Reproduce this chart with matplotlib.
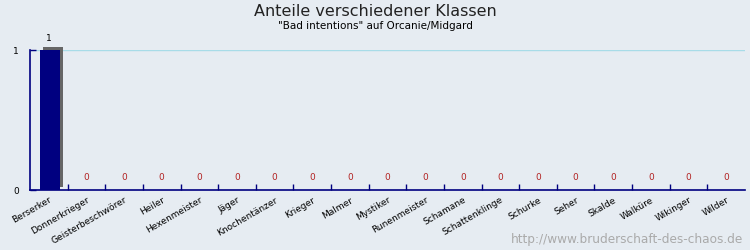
import matplotlib
matplotlib.use("Agg")
import matplotlib.pyplot as plt
import matplotlib.patheffects as pe
import numpy as np

categories = ["Berserker", "Donnerkrieger", "Geisterbeschwörer", "Heiler", "Hexenmeister",
              "Jäger", "Knochentänzer", "Krieger", "Malmer", "Mystiker", "Runenmeister",
              "Schamane", "Schattenklinge", "Schurke", "Seher", "Skalde", "Walküre",
              "Wikinger", "Wilder"]
values = [1, 0, 0, 0, 0, 0, 0, 0, 0, 0, 0, 0, 0, 0, 0, 0, 0, 0, 0]
yticks = [0, 1]

bg = "#e6ecf2"
navy = "#000080"

fig = plt.figure(figsize=(7.5, 2.5), dpi=100, facecolor=bg)
ax = fig.add_axes([30/750, 60/250, 715/750, 140/250])
ax.set_facecolor(bg)

x = np.arange(len(categories))
ax.axhline(1, color="#a8dce8", lw=1, zorder=0)
bars = ax.bar(x + 0.03, values, width=0.53, color=navy, zorder=3, clip_on=False,
              path_effects=[pe.SimplePatchShadow(offset=(2.2, 2.2), shadow_rgbFace="#666666", alpha=1.0), pe.Normal()])

for xi, v in zip(x, values):
    if v > 0:
        ax.annotate(str(v), (xi, v), xytext=(0, 5), textcoords="offset points",
                    ha="center", va="bottom", fontsize=6.5, color="black")
    else:
        ax.annotate(str(v), (xi, v), xytext=(0, 6), textcoords="offset points",
                    ha="center", va="bottom", fontsize=6.5, color="#b22222")

ax.set_xlim(-0.5, len(categories) - 0.5)
ax.set_ylim(0, 1)
for s in ["top", "right"]:
    ax.spines[s].set_visible(False)
for s in ["left", "bottom"]:
    ax.spines[s].set_color(navy)
    ax.spines[s].set_linewidth(1.2)

ax.set_xticks(x)
ax.set_xticklabels(categories, rotation=30, ha="right", rotation_mode="anchor", fontsize=6.5)
ax.tick_params(axis="x", which="major", length=0, pad=4)
for lbl in ax.get_xticklabels():
    lbl.set_x(lbl.get_position()[0])
ax.set_xticks(np.arange(0.5, len(categories) - 0.5, 1), minor=True)
ax.tick_params(axis="x", which="minor", direction="in", length=4, color=navy, width=1)
ax.set_yticks(yticks)
ax.set_yticklabels([str(t) for t in yticks], fontsize=6.5)
ax.tick_params(axis="y", direction="in", length=4, color=navy, width=1, pad=8)

fig.text(0.5, 1 - 12/250, "Anteile verschiedener Klassen", ha="center", va="center", fontsize=11.5, color="#222222")
fig.text(0.5, 1 - 26/250, "\"Bad intentions\" auf Orcanie/Midgard", ha="center", va="center", fontsize=7.5, color="black")
fig.text(1 - 7/750, 10/250, "http://www.bruderschaft-des-chaos.de", ha="right", va="center", fontsize=8.7, color="#aaaaaa")

fig.savefig("out.png", dpi=100, facecolor=bg)
